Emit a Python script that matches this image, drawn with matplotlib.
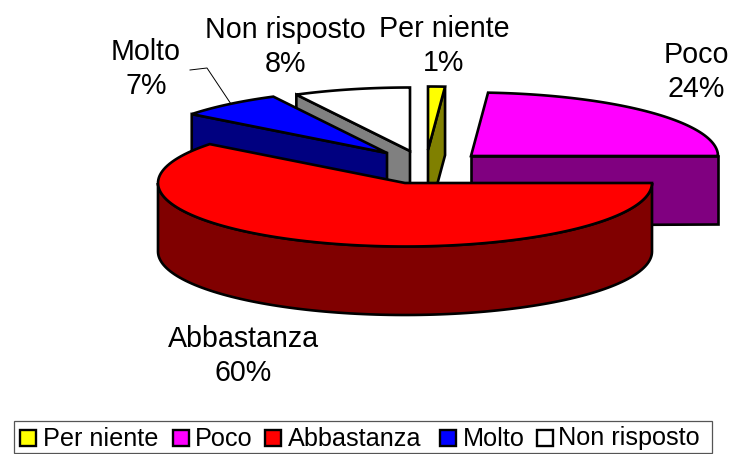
import numpy as np
import matplotlib
matplotlib.use("Agg")
import matplotlib.pyplot as plt
from matplotlib.patches import Polygon, Rectangle

categories = ["Per niente", "Poco", "Abbastanza", "Molto", "Non risposto"]
values = [1.1, 23.9, 60.49, 6.9, 7.61]
percent_labels = [1, 24, 60, 7, 8]

top_colors = ["#ffff00", "#ff00ff", "#ff0000", "#0000ff", "#ffffff"]
side_colors = ["#808000", "#800080", "#800000", "#000080", "#808080"]

# layout, in pixels of the 733x454 picture
centers = [(428, 150), (471, 156), (405, 183), (387, 153), (410, 151)]
RX, RY, DEPTH = 247, 63.5, 68.5
label_xy = [(444, 46), (696, 72), (243, 356), (146, 69), (285, 47)]
legend_swatch_x = [20, 173, 265, 440, 537]
legend_text_x = [43, 195, 288, 463, 558]
LW = 1.9

plt.rcParams["font.family"] = ["Liberation Sans", "DejaVu Sans"]
fig = plt.figure(figsize=(7.33, 4.54), dpi=100)
ax = fig.add_axes([0, 0, 1, 1])
ax.set_xlim(0, 733)
ax.set_ylim(454, 0)
ax.axis("off")

edges = np.concatenate([[0], np.cumsum(values)]) / np.sum(values) * 2 * np.pi


def point(c, t, dz=0.0):
    return (c[0] + RX * np.sin(t), c[1] - RY * np.cos(t) + dz)


def arc(c, a, b, dz=0.0):
    ts = np.linspace(a, b, 120)
    return np.column_stack([c[0] + RX * np.sin(ts), c[1] - RY * np.cos(ts) + dz])


def poly(pts, color, z):
    ax.add_patch(Polygon(pts, closed=True, facecolor=color, edgecolor="black",
                         linewidth=LW, joinstyle="miter", zorder=z))


def cut_face(i, t, z):
    c = centers[i]
    poly([c, point(c, t), point(c, t, DEPTH), (c[0], c[1] + DEPTH)], side_colors[i], z)


def top_face(i, z):
    c = centers[i]
    poly(np.vstack([[c], arc(c, edges[i], edges[i + 1])]), top_colors[i], z)


# back to front: Non risposto, Per niente, Poco, Molto, Abbastanza
cut_face(4, edges[4], 1)
top_face(4, 1.1)
cut_face(0, edges[1], 2)
top_face(0, 2.1)
cut_face(1, edges[2], 3)
top_face(1, 3.1)
cut_face(3, edges[3], 4)
top_face(3, 4.1)

# Abbastanza: outer wall of the front half, then its top
c = centers[2]
wall_top = arc(c, edges[2], np.pi * 1.5)
wall_bottom = arc(c, np.pi * 1.5, edges[2], DEPTH)
poly(np.vstack([wall_top, wall_bottom]), side_colors[2], 5)
top_face(2, 5.1)

# data labels
for (x, y), cat, pct in zip(label_xy, categories, percent_labels):
    ax.text(x, y, f"{cat}\n{pct}%", ha="center", va="center", fontsize=20.6,
            color="black", linespacing=1.24, zorder=7)

# leader line of Molto
ax.plot([190, 207, 231], [70, 68, 104], color="black", lw=0.7, zorder=0.5)

# legend
ax.add_patch(Rectangle((13.5, 420.5), 698, 32, facecolor="white", edgecolor="#555555",
                       linewidth=0.9, zorder=8))
for sx, tx, cat, col in zip(legend_swatch_x, legend_text_x, categories, top_colors):
    ax.add_patch(Rectangle((sx, 430), 15.5, 15.5, facecolor=col, edgecolor="black",
                           linewidth=1.7, zorder=9))
    ax.text(tx, 438.5, cat, ha="left", va="center", fontsize=18.15, color="black", zorder=9)

fig.savefig("out.png", dpi=100)
